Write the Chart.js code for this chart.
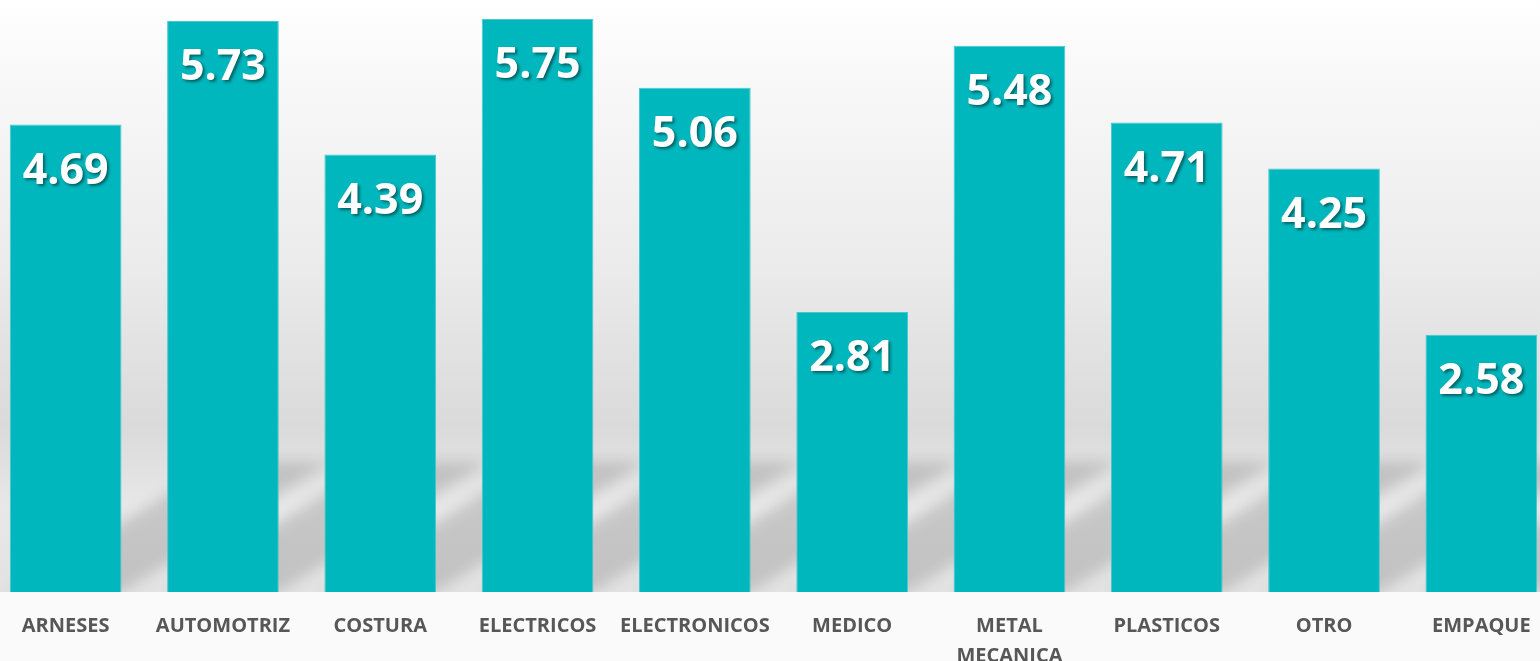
<!DOCTYPE html>
<html>
<head>
<meta charset="utf-8">
<script src="https://cdn.jsdelivr.net/npm/chart.js@4.4.0/dist/chart.umd.min.js"></script>
<style>
  html, body { margin: 0; padding: 0; overflow: hidden; background: #ffffff; }
  #wrap { position: absolute; left: -13px; top: 0; width: 1573px; height: 661px; }
</style>
</head>
<body>
<div id="wrap"><canvas id="chart"></canvas></div>
<script>
const categories = ['ARNESES', 'AUTOMOTRIZ', 'COSTURA', 'ELECTRICOS', 'ELECTRONICOS', 'MEDICO', ['METAL', 'MECANICA'], 'PLASTICOS', 'OTRO', 'EMPAQUE'];
const values = [4.69, 5.73, 4.39, 5.75, 5.06, 2.81, 5.48, 4.71, 4.25, 2.58];

const barColor = '#00b7bd';

// gradient wall + floor behind the bars
const backdrop = {
  id: 'backdrop',
  beforeDraw(chart) {
    const { ctx, chartArea: a, width, height } = chart;
    const g = ctx.createLinearGradient(0, a.top, 0, a.bottom);
    g.addColorStop(0, '#ffffff');
    g.addColorStop(0.1, '#fafafa');
    g.addColorStop(0.45, '#ebebeb');
    g.addColorStop(0.72, '#dadada');
    g.addColorStop(0.86, '#e8e8e8');
    g.addColorStop(1, '#e2e2e2');
    ctx.save();
    ctx.fillStyle = g;
    ctx.fillRect(0, a.top, width, a.bottom - a.top);
    ctx.fillStyle = '#fafafa';
    ctx.fillRect(0, a.bottom, width, height - a.bottom);
    ctx.restore();
  }
};

// slanted soft shadows cast behind each bar
const barShadows = {
  id: 'barShadows',
  beforeDatasetsDraw(chart) {
    const { ctx, chartArea: a } = chart;
    const meta = chart.getDatasetMeta(0);
    ctx.save();
    ctx.beginPath();
    ctx.rect(a.left, a.top, a.right - a.left, a.bottom - a.top);
    ctx.clip();
    ctx.filter = 'blur(7px)';
    ctx.fillStyle = 'rgba(0,0,0,0.14)';
    meta.data.forEach(bar => {
      const half = bar.width / 2;
      const x0 = bar.x - half, x1 = bar.x + half, b = bar.base;
      const h = 130, dx = 210;
      ctx.beginPath();
      ctx.moveTo(x0, b);
      ctx.lineTo(x1, b);
      ctx.lineTo(x1 + dx, b - h);
      ctx.lineTo(x0 + dx, b - h);
      ctx.closePath();
      ctx.fill();
    });
    ctx.restore();
  }
};

// value labels inside the top of each bar
const valueLabels = {
  id: 'valueLabels',
  afterDatasetsDraw(chart) {
    const { ctx } = chart;
    const meta = chart.getDatasetMeta(0);
    ctx.save();
    ctx.font = 'bold 43px "Open Sans"';
    ctx.textAlign = 'center';
    ctx.textBaseline = 'middle';
    ctx.fillStyle = '#ffffff';
    ctx.shadowColor = 'rgba(0,40,40,0.6)';
    ctx.shadowOffsetX = 2;
    ctx.shadowOffsetY = 2;
    ctx.shadowBlur = 3;
    meta.data.forEach((bar, i) => {
      ctx.fillText(values[i].toFixed(2), bar.x, bar.y + 47);
    });
    ctx.restore();
  }
};

new Chart(document.getElementById('chart'), {
  type: 'bar',
  data: {
    labels: categories,
    datasets: [{
      data: values,
      backgroundColor: barColor,
      borderColor: '#45c9cd',
      borderWidth: 1,
      barPercentage: 0.71,
      categoryPercentage: 1
    }]
  },
  options: {
    responsive: true,
    maintainAspectRatio: false,
    animation: false,
    layout: { padding: 0 },
    plugins: { legend: { display: false }, tooltip: { enabled: false } },
    scales: {
      x: {
        grid: { display: false, drawTicks: false },
        border: { display: false },
        ticks: {
          color: '#575757',
          font: { family: 'Open Sans', weight: 'bold', size: 20, lineHeight: 1.5 },
          padding: 19,
          maxRotation: 0,
          autoSkip: false
        },
        afterFit: s => { s.height = 69; }
      },
      y: {
        display: false,
        min: 0,
        max: 5.94
      }
    }
  },
  plugins: [backdrop, barShadows, valueLabels]
});
</script>
</body>
</html>
